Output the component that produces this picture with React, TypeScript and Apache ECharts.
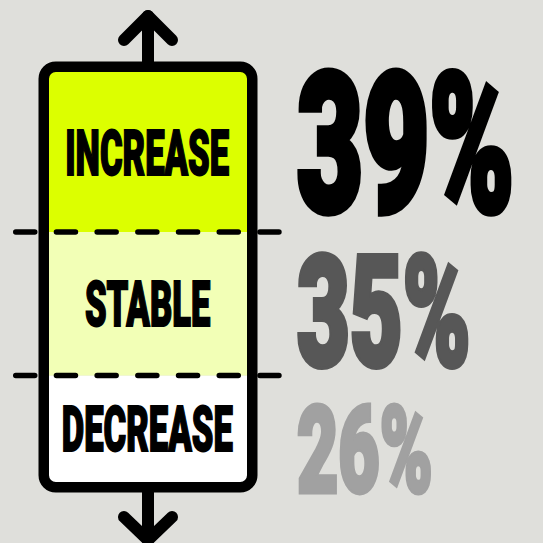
import React, { useEffect, useRef } from 'react';
import * as echarts from 'echarts';

// ---------------- data ----------------
const categories = ['DECREASE', 'STABLE', 'INCREASE'];
const values = [26, 35, 39];
const valueSuffix = '%';

// ---------------- style / layout ----------------
const BG = '#dfdfdb';
const SEG_COLORS = ['#ffffff', '#f2ffb6', '#dcff00'];
const PCT_COLORS = ['#a1a1a1', '#575757', '#000000'];
const PCT_HEIGHTS = [93, 119, 149];
const PCT_DY = [21, 8, -9];
const PCT_LEFT = 297;
const PCT_RATIO = 1.44; // width / height of the percent block
const BAR_LEFT = 49;
const BAR_RIGHT = 247;
const DASH_LEFT = 13;
const DASH_RIGHT = 282;
const FAMILY = "Roboto, 'DejaVu Sans', sans-serif";
const WEIGHT = 900;
const FSIZE = 100;
const LABEL_STROKE = 3;
const PCT_STROKE = 4;
const LABEL_W = 170; // reference width of the widest label (DECREASE)
const LABEL_H = 48;

const FONT_CSS = `${WEIGHT} ${FSIZE}px ${FAMILY}`;

// where the alphabetic baseline lands (relative to y) when SVG uses dominant-baseline: central
function centralShift(): number {
  const NS = 'http://www.w3.org/2000/svg';
  const svg = document.createElementNS(NS, 'svg');
  svg.setAttribute('width', '400');
  svg.setAttribute('height', '400');
  svg.style.position = 'absolute';
  svg.style.left = '-2000px';
  svg.style.top = '0px';
  const mk = (central: boolean) => {
    const t = document.createElementNS(NS, 'text');
    t.setAttribute('x', '0');
    t.setAttribute('y', '200');
    t.setAttribute('style', `font: ${FONT_CSS}`);
    if (central) t.setAttribute('dominant-baseline', 'central');
    t.textContent = 'H';
    svg.appendChild(t);
    return t;
  };
  const a = mk(false);
  const c = mk(true);
  document.body.appendChild(svg);
  let s = 0;
  try {
    s = c.getBBox().y - a.getBBox().y;
  } catch (e) {
    s = 0;
  }
  document.body.removeChild(svg);
  return s;
}

function inkBox(text: string, align: CanvasTextAlign, shift: number) {
  const c = document.createElement('canvas').getContext('2d')!;
  c.font = FONT_CSS;
  c.textAlign = align;
  c.textBaseline = 'alphabetic';
  const m = c.measureText(text);
  // relative to the SVG 'central' anchor
  return {
    l: m.actualBoundingBoxLeft,
    r: m.actualBoundingBoxRight,
    top: shift - m.actualBoundingBoxAscent,
    bottom: shift + m.actualBoundingBoxDescent,
  };
}

export default function App() {
  const ref = useRef<HTMLDivElement>(null);

  useEffect(() => {
    if (!ref.current) return;
    const chart = echarts.init(ref.current, undefined, { renderer: 'svg' });
    const shift = centralShift();

    // cumulative stacking from bottom
    const segData: number[][] = [];
    let acc = 0;
    values.forEach((v, i) => {
      segData.push([acc, acc + v, i]);
      acc += v;
    });

    // label scale from the widest label
    const ref0 = inkBox('DECREASE', 'center', shift);
    const lsx = LABEL_W / (ref0.l + ref0.r + LABEL_STROKE);
    const lsy = LABEL_H / (ref0.bottom - ref0.top + LABEL_STROKE);

    const renderSeg = (params: any, api: any) => {
      const i = api.value(2);
      const start = api.value(0);
      const end = api.value(1);
      const yBot = api.coord([0, start])[1];
      const yTop = api.coord([0, end])[1];
      const xL = api.coord([BAR_LEFT, 0])[0];
      const xR = api.coord([BAR_RIGHT, 0])[0];
      const cx = (xL + xR) / 2;
      const cy = (yTop + yBot) / 2;
      const children: any[] = [
        {
          type: 'rect',
          shape: { x: xL, y: yTop, width: xR - xL, height: yBot - yTop },
          style: { fill: SEG_COLORS[i] },
          z2: 1,
        },
      ];
      if (start > 0) {
        const lw = 5.5;
        children.push({
          type: 'line',
          shape: {
            x1: api.coord([DASH_LEFT, 0])[0] + lw / 2,
            y1: yBot,
            x2: api.coord([DASH_RIGHT, 0])[0] - lw / 2,
            y2: yBot,
          },
          style: { stroke: '#000', lineWidth: lw, lineDash: [19, 21.7], lineCap: 'round' },
          z2: 5,
        });
      }
      // category label
      const name = categories[i];
      const lb = inkBox(name, 'center', shift);
      children.push({
        type: 'text',
        x: cx - lsx * ((lb.r - lb.l) / 2),
        y: cy - lsy * ((lb.top + lb.bottom) / 2),
        scaleX: lsx,
        scaleY: lsy,
        style: {
          text: name,
          fontFamily: FAMILY,
          fontWeight: WEIGHT,
          fontSize: FSIZE,
          fill: '#000',
          stroke: '#000',
          lineWidth: LABEL_STROKE,
          lineJoin: 'round',
          align: 'center',
          verticalAlign: 'middle',
        },
        z2: 10,
      });
      // percent label
      const pct = values[i] + valueSuffix;
      const pb = inkBox(pct, 'left', shift);
      const H = PCT_HEIGHTS[i];
      const psy = H / (pb.bottom - pb.top + PCT_STROKE);
      const psx = (H * PCT_RATIO) / (pb.l + pb.r + PCT_STROKE);
      children.push({
        type: 'text',
        x: api.coord([PCT_LEFT, 0])[0] + psx * (pb.l + PCT_STROKE / 2),
        y: cy + PCT_DY[i] - psy * ((pb.top + pb.bottom) / 2),
        scaleX: psx,
        scaleY: psy,
        style: {
          text: pct,
          fontFamily: FAMILY,
          fontWeight: WEIGHT,
          fontSize: FSIZE,
          fill: PCT_COLORS[i],
          stroke: PCT_COLORS[i],
          lineWidth: PCT_STROKE,
          lineJoin: 'round',
          align: 'left',
          verticalAlign: 'middle',
        },
        z2: 10,
      });
      return { type: 'group', children };
    };

    const renderFrame = (params: any, api: any) => {
      const yBot = api.coord([0, api.value(0)])[1];
      const yTop = api.coord([0, api.value(1)])[1];
      const xL = api.coord([BAR_LEFT, 0])[0];
      const xR = api.coord([BAR_RIGHT, 0])[0];
      const cx = (xL + xR) / 2;
      const bw = 10.5;
      const aw = 12;
      const arrowStyle = { stroke: '#000', lineWidth: aw, lineCap: 'round', lineJoin: 'round', fill: null };
      return {
        type: 'group',
        children: [
          {
            type: 'rect',
            shape: { x: xL - bw / 2, y: yTop - bw / 2, width: xR - xL + bw, height: yBot - yTop + bw, r: 12 },
            style: { fill: null, stroke: '#000', lineWidth: bw },
          },
          { type: 'line', shape: { x1: cx, y1: yTop - 6, x2: cx, y2: yTop - 56 }, style: arrowStyle },
          {
            type: 'polyline',
            shape: { points: [[cx - 24, yTop - 32], [cx, yTop - 56], [cx + 24, yTop - 32]] },
            style: arrowStyle,
          },
          { type: 'line', shape: { x1: cx, y1: yBot + 6, x2: cx, y2: yBot + 58 }, style: arrowStyle },
          {
            type: 'polyline',
            shape: { points: [[cx - 24, yBot + 35], [cx, yBot + 58], [cx + 24, yBot + 35]] },
            style: arrowStyle,
          },
        ],
      };
    };

    chart.setOption({
      animation: false,
      backgroundColor: BG,
      grid: { left: 0, right: 0, top: 72, bottom: 61 },
      xAxis: { type: 'value', min: 0, max: 543, show: false },
      yAxis: { type: 'value', min: 0, max: 100, show: false },
      series: [
        {
          type: 'custom',
          z: 2,
          renderItem: renderSeg,
          encode: { x: -1, y: [0, 1] },
          data: segData,
        },
        {
          type: 'custom',
          z: 3,
          renderItem: renderFrame,
          encode: { x: -1, y: [0, 1] },
          data: [[0, acc]],
        },
      ],
    });

    return () => chart.dispose();
  }, []);

  return (
    <div
      ref={ref}
      style={{ position: 'fixed', left: 0, top: 0, width: 543, height: 543 }}
    />
  );
}
